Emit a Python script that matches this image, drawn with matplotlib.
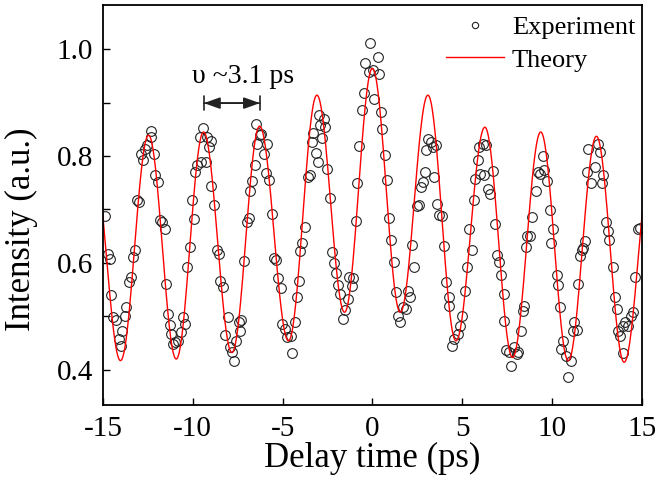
import numpy as np
import matplotlib
matplotlib.use("Agg")
import matplotlib.pyplot as plt

plt.rcParams['font.family'] = ['Liberation Serif', 'DejaVu Serif']
plt.rcParams['axes.unicode_minus'] = False

# Experiment points (delay time in ps, intensity a.u.)
exp_t = [-14.91, -14.72, -14.63, -14.54, -14.44, -14.26, -14.13, -14.02, -13.94, -13.79,
         -13.70, -13.57, -13.46, -13.33, -13.24, -13.09, -13.01, -12.90, -12.77, -12.68,
         -12.53, -12.35, -12.31, -12.16, -12.09, -11.94, -11.85, -11.72, -11.57, -11.47,
         -11.38, -11.29, -11.20, -11.10, -10.97, -10.83, -10.68, -10.55, -10.42, -10.31,
         -10.18, -10.05, -9.93, -9.86, -9.75, -9.62,
         -9.55, -9.45, -9.25, -9.18, -9.12, -8.99, -8.99, -8.79, -8.66, -8.54,
         -8.47, -8.32, -8.19, -8.06, -7.95, -7.82, -7.69, -7.58, -7.45, -7.39,
         -7.30, -7.14, -6.97, -6.88, -6.84, -6.69, -6.52, -6.49, -6.43, -6.28,
         -6.21, -6.06, -5.95, -5.87, -5.76, -5.60, -5.47, -5.35, -5.28, -5.08,
         -5.04, -4.85, -4.76,
         -4.54, -4.48, -4.30, -4.20, -4.11, -4.02, -3.93, -3.74, -3.59, -3.50,
         -3.37, -3.28, -3.15, -3.05, -3.00, -2.91, -2.81, -2.72, -2.63, -2.53,
         -2.35, -2.26, -2.13, -2.02, -1.92, -1.79, -1.64, -1.51, -1.38, -1.33,
         -1.14, -1.09, -0.92, -0.83, -0.72, -0.59, -0.46, -0.40, -0.18,
         -0.14, 0.01, 0.10, 0.29, 0.38, 0.47, 0.53, 0.71, 0.84, 0.93,
         1.03, 1.21, 1.31, 1.44, 1.53, 1.68, 1.86, 1.96, 2.09, 2.23,
         2.33, 2.51, 2.60, 2.70, 2.83, 2.94, 3.01, 3.12, 3.25, 3.35,
         3.44, 3.53, 3.57, 3.72, 3.87, 4.00, 4.09, 4.24, 4.27, 4.42, 4.55,
         4.74, 4.87, 4.98, 5.16, 5.29, 5.39, 5.53, 5.66, 5.72, 5.85,
         5.91, 5.98, 6.13, 6.22, 6.31, 6.41, 6.56, 6.72, 6.83, 6.91,
         7.02, 7.15, 7.30, 7.33, 7.43, 7.58, 7.71, 7.89, 8.04, 8.08,
         8.26, 8.355, 8.45, 8.54, 8.63, 8.76, 8.91, 9.10, 9.19, 9.32,
         9.505, 9.56,
         9.745, 9.875, 9.93, 10.06, 10.25, 10.34, 10.43, 10.52, 10.62, 10.75,
         10.90, 11.04, 11.17, 11.23, 11.40, 11.45, 11.545, 11.64, 11.73, 11.86,
         11.97, 12.01, 12.19, 12.38, 12.53, 12.66, 12.79, 12.84, 13.03, 13.12,
         13.16, 13.40, 13.49, 13.59, 13.68, 13.77, 13.96, 13.96, 14.05, 14.24,
         14.38, 14.51, 14.61, 14.79, 14.90]
exp_i = [0.687, 0.617, 0.608, 0.539, 0.499, 0.493, 0.458, 0.445, 0.473, 0.501,
         0.517, 0.564, 0.573, 0.611, 0.624, 0.717, 0.714, 0.804, 0.792, 0.814,
         0.820, 0.847, 0.836, 0.804, 0.764, 0.751, 0.681, 0.676, 0.664, 0.561,
         0.504, 0.483, 0.467, 0.448, 0.451, 0.454, 0.471, 0.498, 0.486, 0.592,
         0.629, 0.717, 0.683, 0.770, 0.783, 0.836,
         0.789, 0.853, 0.788, 0.836, 0.817, 0.829, 0.744, 0.709, 0.624, 0.617,
         0.567, 0.554, 0.465, 0.498, 0.442, 0.433, 0.417, 0.454, 0.489, 0.473,
         0.493, 0.603, 0.676, 0.684, 0.734, 0.754, 0.783, 0.859, 0.823, 0.839,
         0.842, 0.804, 0.769, 0.823, 0.756, 0.692, 0.609, 0.606, 0.572, 0.553,
         0.486, 0.476, 0.461,
         0.464, 0.431, 0.489, 0.537, 0.567, 0.622, 0.638, 0.667, 0.761, 0.764,
         0.826, 0.843, 0.806, 0.788, 0.876, 0.858, 0.833, 0.870, 0.854, 0.776,
         0.721, 0.620, 0.599, 0.581, 0.558, 0.542, 0.495, 0.511, 0.533, 0.574,
         0.556, 0.572, 0.678, 0.749, 0.819, 0.887, 0.917, 0.974, 0.957,
         1.011, 0.961, 0.9075, 0.986, 0.953, 0.8825, 0.851, 0.8025, 0.756, 0.684,
         0.643, 0.601, 0.546, 0.500, 0.489, 0.517, 0.514, 0.548, 0.536, 0.634,
         0.593, 0.706, 0.7075, 0.742, 0.751, 0.770, 0.812, 0.8325, 0.826, 0.817,
         0.761, 0.820, 0.711, 0.689, 0.687, 0.631, 0.565, 0.520, 0.537, 0.445, 0.4575,
         0.467, 0.4825, 0.500, 0.548, 0.592, 0.664, 0.624, 0.717, 0.7575, 0.792,
         0.817, 0.767, 0.823, 0.764, 0.820, 0.739, 0.729, 0.772, 0.673, 0.614,
         0.601, 0.578, 0.492, 0.541, 0.436, 0.4325, 0.4075, 0.442, 0.429, 0.4325,
         0.473, 0.509, 0.520, 0.629, 0.651, 0.651, 0.686, 0.734, 0.770, 0.767,
         0.800, 0.773,
         0.754, 0.699, 0.637, 0.664, 0.578, 0.559, 0.518, 0.439, 0.454, 0.426,
         0.386, 0.417, 0.473, 0.489, 0.474, 0.561, 0.612, 0.624, 0.628, 0.641,
         0.770, 0.814, 0.749, 0.779, 0.822, 0.8075, 0.749, 0.764, 0.676, 0.659,
         0.643, 0.592, 0.537, 0.514, 0.473, 0.464, 0.4825, 0.431, 0.489, 0.4825,
         0.500, 0.5075, 0.574, 0.664, 0.665]

# Theory curve: peaks and troughs
theory_t = [-15.57, -14.02, -12.46, -10.92, -9.40, -7.82, -6.28, -4.67, -3.09, -1.55, 0.0,
            1.55, 3.09, 4.65, 6.26, 7.80, 9.37, 10.90, 12.47, 14.01, 15.57]
theory_v = [0.80, 0.417, 0.839, 0.420, 0.845, 0.432, 0.856, 0.454, 0.914, 0.5075, 0.964,
            0.5075, 0.914, 0.454, 0.854, 0.423, 0.845, 0.417, 0.837, 0.414, 0.80]

# smooth half-cosine between neighbouring extrema
th_x, th_y = [], []
for k in range(len(theory_t) - 1):
    s = np.linspace(0, 1, 40)
    th_x.extend(theory_t[k] + (theory_t[k + 1] - theory_t[k]) * s)
    th_y.extend(theory_v[k] + (theory_v[k + 1] - theory_v[k]) * (1 - np.cos(np.pi * s)) / 2)

fig = plt.figure(figsize=(6.64, 4.83), dpi=100)
ax = fig.add_axes([0.155, 0.1615, 0.8117, 0.828])

ax.plot(exp_t, exp_i, 'o', mfc='none', mec='#222222', mew=0.8, ms=7, label='Experiment')
ax.plot(th_x, th_y, color='red', lw=1.0, label='Theory')

ax.set_xlim(-15, 15)
ax.set_ylim(0.334, 1.0825)
ax.set_xticks([-15, -10, -5, 0, 5, 10, 15])
ax.set_yticks([0.4, 0.6, 0.8, 1.0])
ax.set_yticks([0.5, 0.7, 0.9], minor=True)
ax.tick_params(which='both', direction='in', length=5, width=1, labelsize=21,
               top=False, right=False)
ax.tick_params(axis='x', pad=8)
ax.tick_params(axis='y', pad=7)
for sp in ax.spines.values():
    sp.set_linewidth(1.3)

ax.set_xlabel('Delay time (ps)', fontsize=25, labelpad=0)
ax.set_ylabel('Intensity (a.u.)', fontsize=25)
ax.yaxis.set_label_coords(-0.12, 0.44)

# period annotation
ax.annotate('', xy=(-6.26, 0.899), xytext=(-9.38, 0.899),
            arrowprops=dict(arrowstyle='<|-|>,head_length=0.7,head_width=0.25',
                            color='#222222', lw=1.2, mutation_scale=14,
                            shrinkA=0, shrinkB=0))
ax.annotate('', xy=(-6.26, 0.899), xytext=(-9.38, 0.899),
            arrowprops=dict(arrowstyle='|-|', color='#222222', lw=1.2, mutation_scale=5,
                            shrinkA=0, shrinkB=0))
ax.text(-7.21, 0.948, 'υ ~3.1 ps', fontsize=20, ha='center', va='center')

ax.legend(loc='upper right', bbox_to_anchor=(1.0, 0.99), frameon=False, fontsize=19,
          handlelength=2.2, handletextpad=0.3, labelspacing=0.34, borderpad=0.1,
          borderaxespad=0.15, numpoints=1, markerscale=0.65)

fig.savefig('out.png', dpi=100)
